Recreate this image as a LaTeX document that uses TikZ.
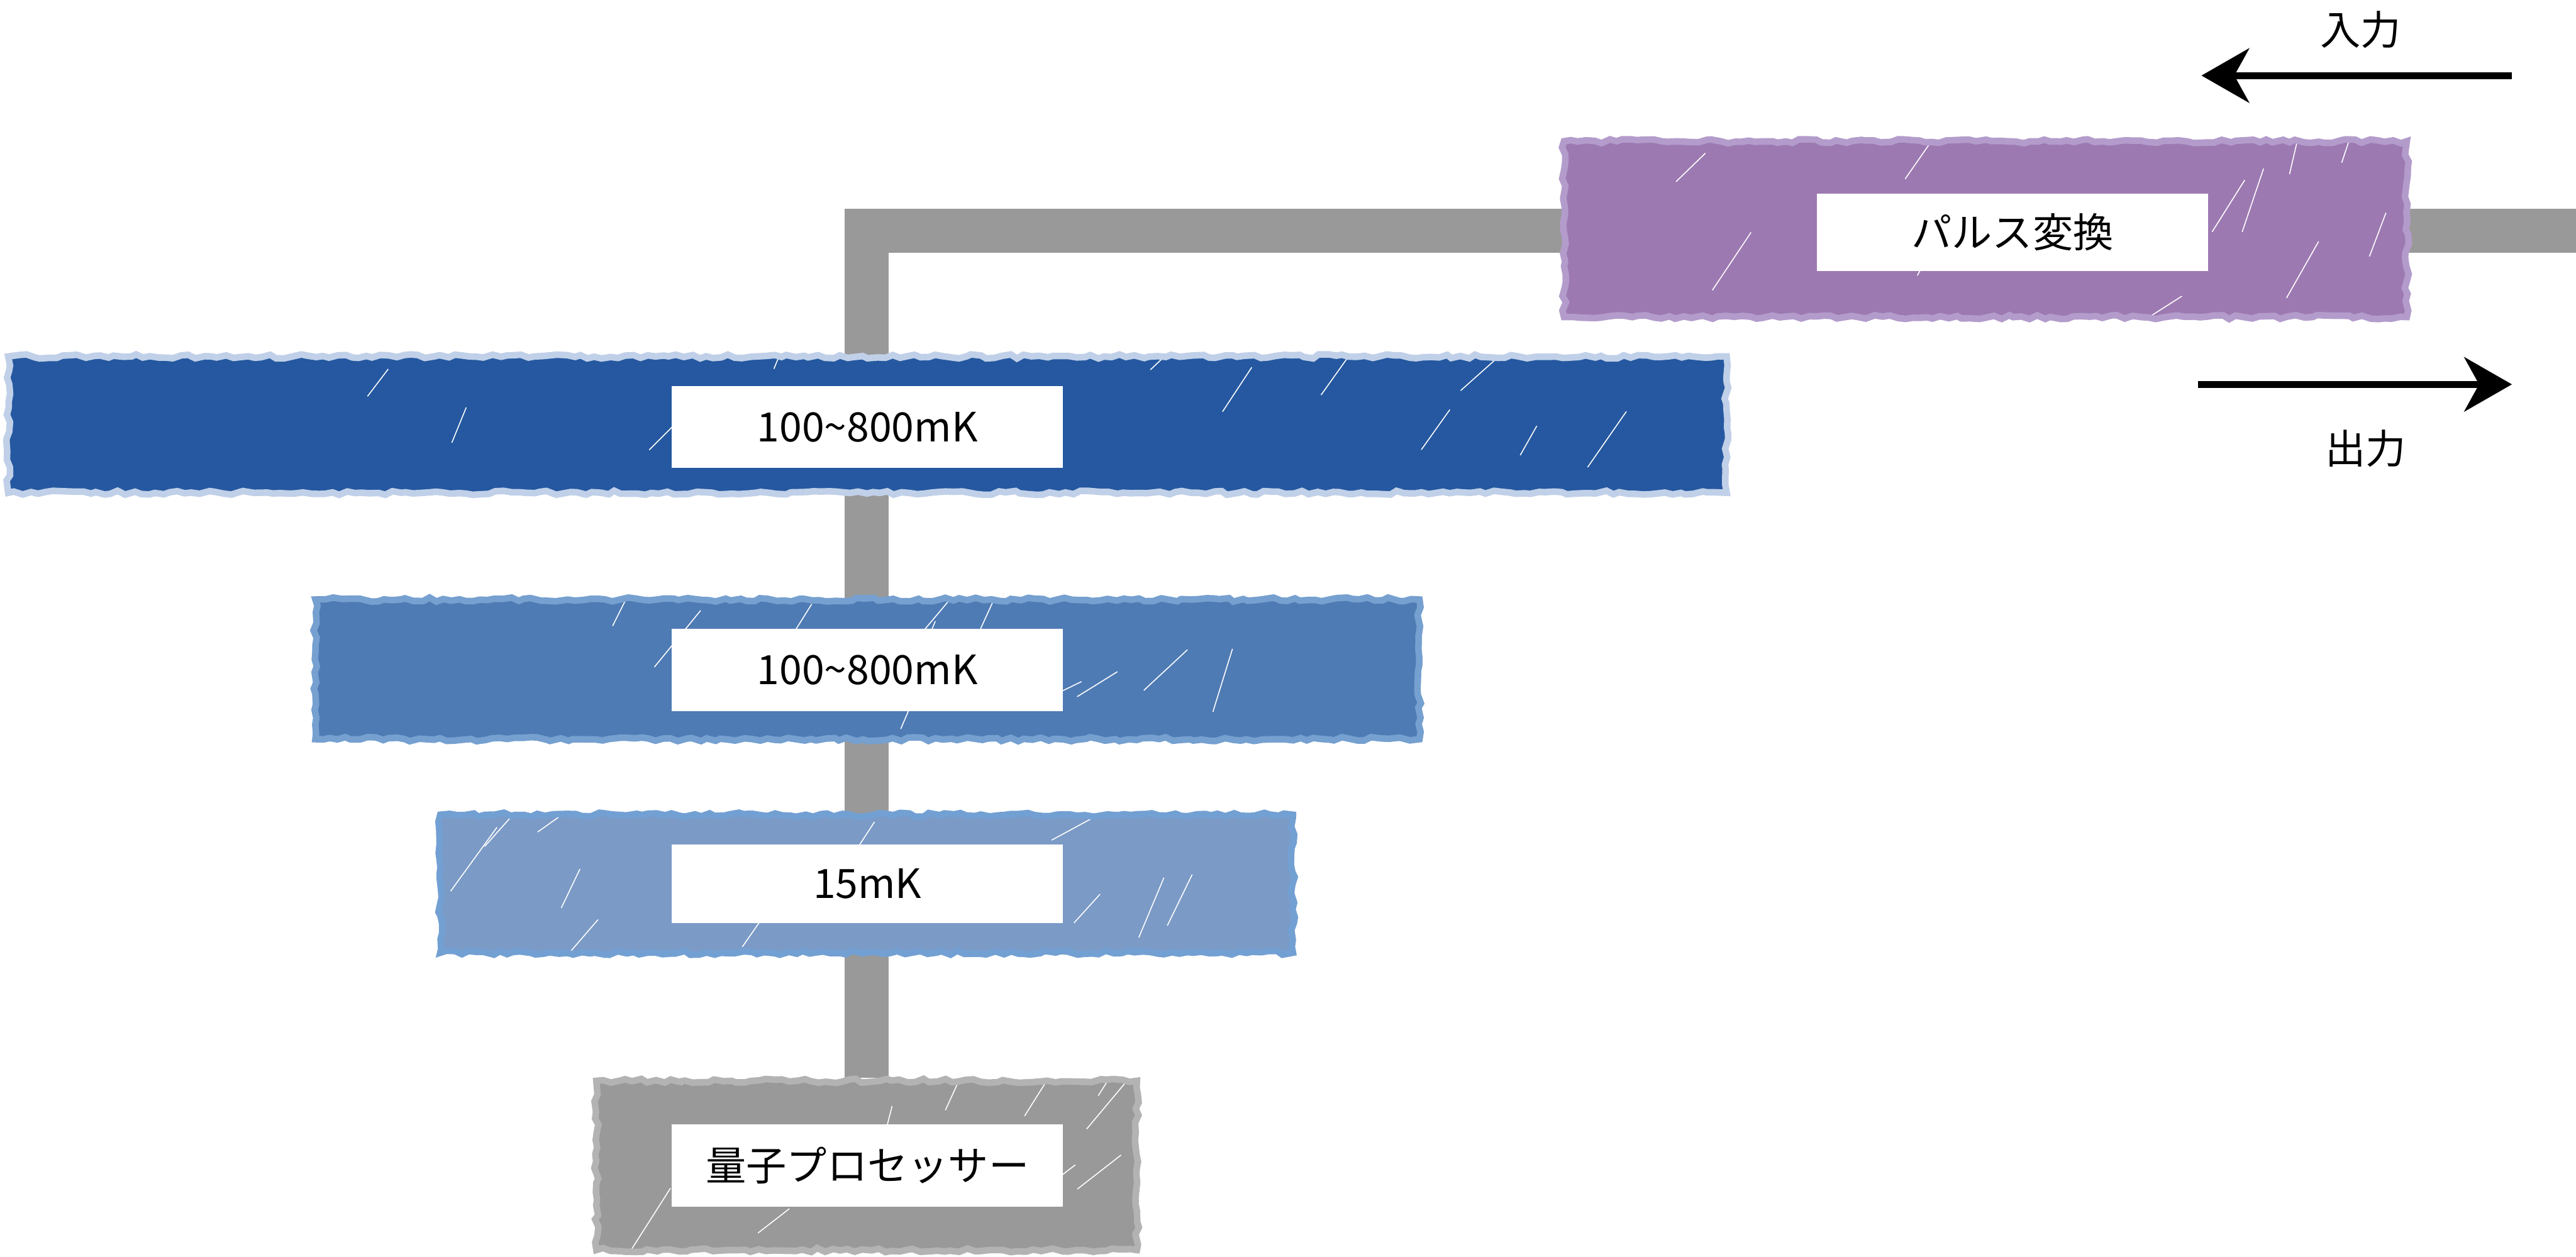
\documentclass[tikz,border=0pt]{standalone}
\usepackage{fontspec}
\setmainfont{Noto Sans CJK JP}
\usetikzlibrary{arrows.meta, decorations.pathmorphing, backgrounds, positioning}
\definecolor{pipegray}{HTML}{999999}
\definecolor{convfill}{HTML}{9D79B1}
\definecolor{convedge}{HTML}{B39CCB}
\definecolor{warmfill}{HTML}{2558A0}
\definecolor{warmedge}{HTML}{C0D0E8}
\definecolor{midfill}{HTML}{4F7BB4}
\definecolor{midedge}{HTML}{75A0D0}
\definecolor{coldfill}{HTML}{7B9AC6}
\definecolor{coldedge}{HTML}{73A0D3}
\definecolor{qpufill}{HTML}{999999}
\definecolor{qpuedge}{HTML}{B3B3B3}

\begin{document}
\pgfmathsetseed{11}
\begin{tikzpicture}[x=0.2mm, y=-0.2mm, font=\fontsize{14}{16}\selectfont,
  stage/.style 2 args={fill=#1, draw=#2, line width=0.8mm, decorate,
    decoration={random steps, segment length=0.9mm, amplitude=0.25mm}},
  hatch/.style 2 args={path picture={
    \foreach \k in {1,...,12}
      \draw[white, line width=0.12mm] ([shift={({rand*#1},{rand*#2})}]path picture bounding box.center) -- ++(55:{3mm+7mm*rnd});}},
  tag/.style={fill=white, minimum width=47.6mm, minimum height=10mm, inner sep=0pt},
  pipe/.style={pipegray, line width=5.4mm},
  flow/.style={-{Stealth[length=5.8mm, width=6.6mm, inset=1.8mm]}, line width=0.86mm}]
\useasboundingbox (0,0) rectangle (1568,765);

% stages
\node[stage={convfill}{convedge}, hatch={50mm}{11mm}, minimum width=102.6mm, minimum height=21.4mm] (conv) at (1208.5,139.5) {};
\node[stage={warmfill}{warmedge}, hatch={105mm}{9mm}, minimum width=209.2mm, minimum height=16.6mm] (warm) at (528,258.5) {};
\node[stage={midfill}{midedge}, hatch={67mm}{9mm}, minimum width=134.4mm, minimum height=17mm] (mid) at (528,407.5) {};
\node[stage={coldfill}{coldedge}, hatch={52mm}{9mm}, minimum width=103.8mm, minimum height=16.8mm] (cold) at (527.5,538) {};
\node[stage={qpufill}{qpuedge}, hatch={33mm}{11mm}, minimum width=65.8mm, minimum height=20.6mm] (qpu) at (527.5,709.5) {};

% labels
\node[tag, minimum height=9.4mm] (convtag) at (1225,141.5) {パルス変換};
\node[tag] (warmtag) at (528,260) {100\textasciitilde800mK};
\node[tag] (midtag) at (528,408) {100\textasciitilde800mK};
\node[tag, minimum height=9.6mm] (coldtag) at (528,538) {15mK};
\node[tag] (qputag) at (528,709.5) {量子プロセッサー};

% line
\coordinate (feed) at (1568,140.5);
\begin{scope}[on background layer]
\draw[pipe] (feed) -| (qpu);
\end{scope}

% in / out
\coordinate (inR) at (1529,46);
\coordinate (inL) at (1340,46);
\draw[flow] (inR) -- (inL);
\node (inlbl) at (1437,18) {入力};
\coordinate (outL) at (1338,234);
\coordinate (outR) at (1529,234);
\draw[flow] (outL) -- (outR);
\node (outlbl) at (1440,273) {出力};
\end{tikzpicture}
\end{document}
